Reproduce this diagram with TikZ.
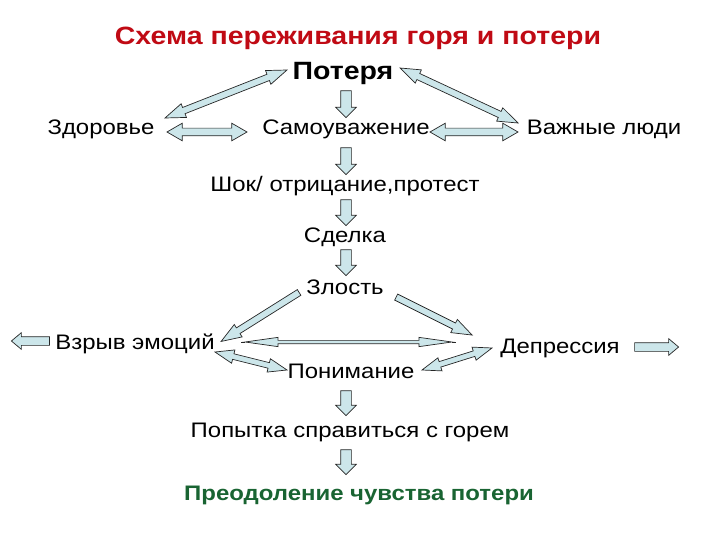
\documentclass[tikz,border=0pt]{standalone}
\usepackage{fontspec}
\setmainfont{Liberation Sans}[FakeStretch=1.14]
\usetikzlibrary{shapes.arrows,calc}
\definecolor{arrfill}{RGB}{204,230,234}
\definecolor{titlered}{RGB}{192,10,20}
\definecolor{fingreen}{RGB}{25,100,50}
\tikzset{
  lbl/.style={anchor=base,inner sep=0pt,font=\fontsize{21}{24}\selectfont},
  sarrow/.style={single arrow,draw=black!85,fill=arrfill,line width=0.7pt,inner xsep=0pt,single arrow head indent=0pt},
  darrow/.style={double arrow,draw=black!85,fill=arrfill,line width=0.7pt,inner xsep=0pt,double arrow head indent=0pt},
  downarr/.style={sarrow,inner ysep=5pt,single arrow head extend=5pt,single arrow tip angle=90},
  diagarr/.style={inner ysep=3pt,single arrow head extend=4pt,double arrow head extend=4pt,single arrow tip angle=40,double arrow tip angle=40},
  horarr/.style={inner ysep=3.5pt,double arrow head extend=5pt,double arrow tip angle=60},
  thinarr/.style={inner ysep=1.3pt,double arrow head extend=3pt,double arrow tip angle=16},
  sidearr/.style={inner ysep=4pt,single arrow head extend=4pt,single arrow tip angle=80}
}
\newcommand\barr[3][]{%
  \path let \p1=(#2), \p2=(#3), \n1={atan2(\y2-\y1,\x2-\x1)}, \n2={veclen(\x2-\x1,\y2-\y1)} in
  node[sarrow,#1,rotate=\n1,minimum height=\n2] at ($(\p1)!0.5!(\p2)$) {};}
\newcommand\dbarr[3][]{%
  \path let \p1=(#2), \p2=(#3), \n1={atan2(\y2-\y1,\x2-\x1)}, \n2={veclen(\x2-\x1,\y2-\y1)} in
  node[darrow,#1,rotate=\n1,minimum height=\n2] at ($(\p1)!0.5!(\p2)$) {};}
\begin{document}
\begin{tikzpicture}[x=1pt,y=-1pt]
\useasboundingbox (0,0) rectangle (720,540);
% texts
\node[lbl,font=\fontsize{25}{28}\bfseries,text=titlered] (title) at (358,45) {Схема переживания горя и потери};
\node[lbl,font=\fontsize{25}{28}\bfseries] (loss) at (343,80) {Потеря};
\node[lbl] (health) at (101,135) {Здоровье};
\node[lbl] (self) at (346,135) {Самоуважение};
\node[lbl] (people) at (604,135) {Важные люди};
\node[lbl] (shock) at (345,192) {Шок/ отрицание,протест};
\node[lbl] (deal) at (345,242) {Сделка};
\node[lbl] (anger) at (345,294) {Злость};
\node[lbl] (burst) at (135,349) {Взрыв эмоций};
\node[lbl] (depr) at (560,353) {Депрессия};
\node[lbl] (under) at (351,378) {Понимание};
\node[lbl] (cope) at (350,437) {Попытка справиться с горем};
\node[lbl,font=\fontsize{21}{24}\bfseries,text=fingreen] (overc) at (359,500) {Преодоление чувства потери};
% arrow end points
\coordinate (lh1) at (287,70);  \coordinate (lh2) at (165,118);
\coordinate (lp1) at (400,68);  \coordinate (lp2) at (518,123);
\coordinate (hs1) at (167,132); \coordinate (hs2) at (247,132);
\coordinate (sp1) at (430,132); \coordinate (sp2) at (518,132);
\coordinate (d1a) at (346,88);  \coordinate (d1b) at (346,115);
\coordinate (d2a) at (346,145); \coordinate (d2b) at (346,172);
\coordinate (d3a) at (346,197); \coordinate (d3b) at (346,223);
\coordinate (d4a) at (346,247); \coordinate (d4b) at (346,273);
\coordinate (d5a) at (346,388); \coordinate (d5b) at (346,413);
\coordinate (d6a) at (346,447); \coordinate (d6b) at (346,472);
\coordinate (ab1) at (303,290); \coordinate (ab2) at (225,339);
\coordinate (ad1) at (392,295); \coordinate (ad2) at (468,333);
\coordinate (bl1) at (52,341);  \coordinate (bl2) at (14,341);
\coordinate (dr1) at (632,347); \coordinate (dr2) at (676,347);
\coordinate (bu1) at (215,352); \coordinate (bu2) at (287,370);
\coordinate (ud1) at (422,370); \coordinate (ud2) at (492,348);
\coordinate (lg1) at (245,342); \coordinate (lg2) at (452,342);
% connectors
\dbarr[diagarr]{lh1}{lh2}
\dbarr[diagarr]{lp1}{lp2}
\dbarr[horarr]{hs1}{hs2}
\dbarr[horarr]{sp1}{sp2}
\barr[downarr]{d1a}{d1b}
\barr[downarr]{d2a}{d2b}
\barr[downarr]{d3a}{d3b}
\barr[downarr]{d4a}{d4b}
\barr[downarr]{d5a}{d5b}
\barr[downarr]{d6a}{d6b}
\barr[diagarr]{ab1}{ab2}
\barr[diagarr]{ad1}{ad2}
\barr[sidearr]{bl1}{bl2}
\barr[sidearr]{dr1}{dr2}
\dbarr[diagarr,inner ysep=2.5pt]{bu1}{bu2}
\dbarr[diagarr,inner ysep=2.5pt]{ud1}{ud2}
\dbarr[thinarr]{lg1}{lg2}
\draw[black!85,line width=0.8pt] ($(lg1)+(-4,0)$) coordinate (lg0) -- (lg1);
\draw[black!85,line width=0.8pt] (lg2) -- ($(lg2)+(4,0)$) coordinate (lg3);
\end{tikzpicture}
\end{document}
